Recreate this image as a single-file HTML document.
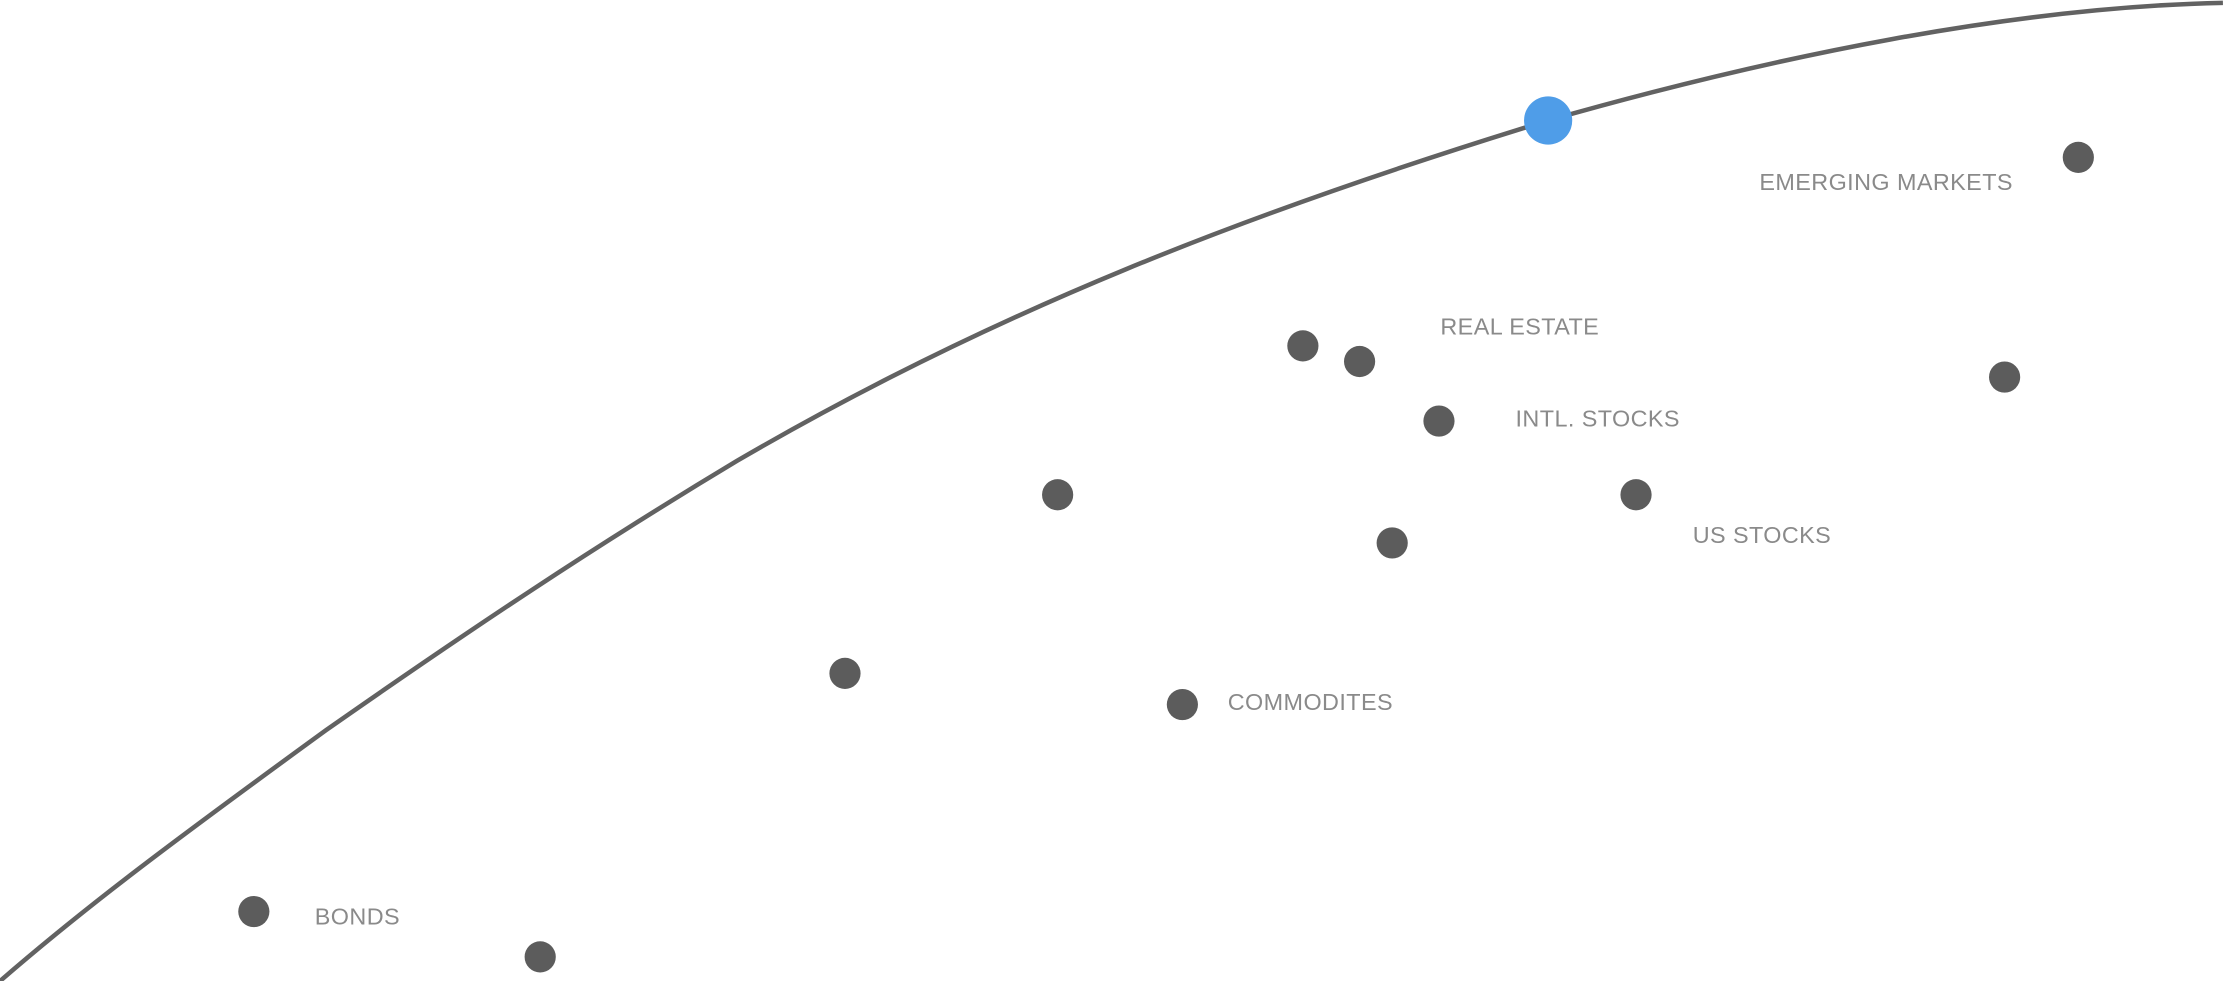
<!DOCTYPE html>
<html><head><meta charset="utf-8"><style>
html,body{margin:0;padding:0;background:#fff;width:2223px;height:981px;overflow:hidden}
svg{display:block}
text{font-family:"Liberation Sans",sans-serif;font-size:16.5px;fill:#8a8a8a;letter-spacing:0.3px}
</style></head><body>
<svg width="2223" height="981" viewBox="0 0 1568 692" xmlns="http://www.w3.org/2000/svg">
<path d="M0,692 C60,640 120,595 230,515 C330,445 420,385 520,325 C700,220 880,150 1092,85 C1250,40 1420,5 1568,2" fill="none" stroke="#626262" stroke-width="3.2"/>
<g fill="#5c5c5c">
<circle cx="179" cy="643" r="11"/>
<circle cx="381" cy="675" r="11"/>
<circle cx="596" cy="475" r="11"/>
<circle cx="746" cy="349" r="11"/>
<circle cx="834" cy="497" r="11"/>
<circle cx="919" cy="244" r="11"/>
<circle cx="959" cy="255" r="11"/>
<circle cx="1015" cy="297" r="11"/>
<circle cx="982" cy="383" r="11"/>
<circle cx="1154" cy="349" r="11"/>
<circle cx="1414" cy="266" r="11"/>
<circle cx="1466" cy="111" r="11"/>
</g>
<circle cx="1092" cy="85" r="17" fill="#4f9de8"/>
<text x="222" y="652">BONDS</text>
<text x="866" y="501">COMMODITES</text>
<text x="1016" y="236">REAL ESTATE</text>
<text x="1069" y="301">INTL. STOCKS</text>
<text x="1194" y="383">US STOCKS</text>
<text x="1241" y="134">EMERGING MARKETS</text>
</svg>
</body></html>
